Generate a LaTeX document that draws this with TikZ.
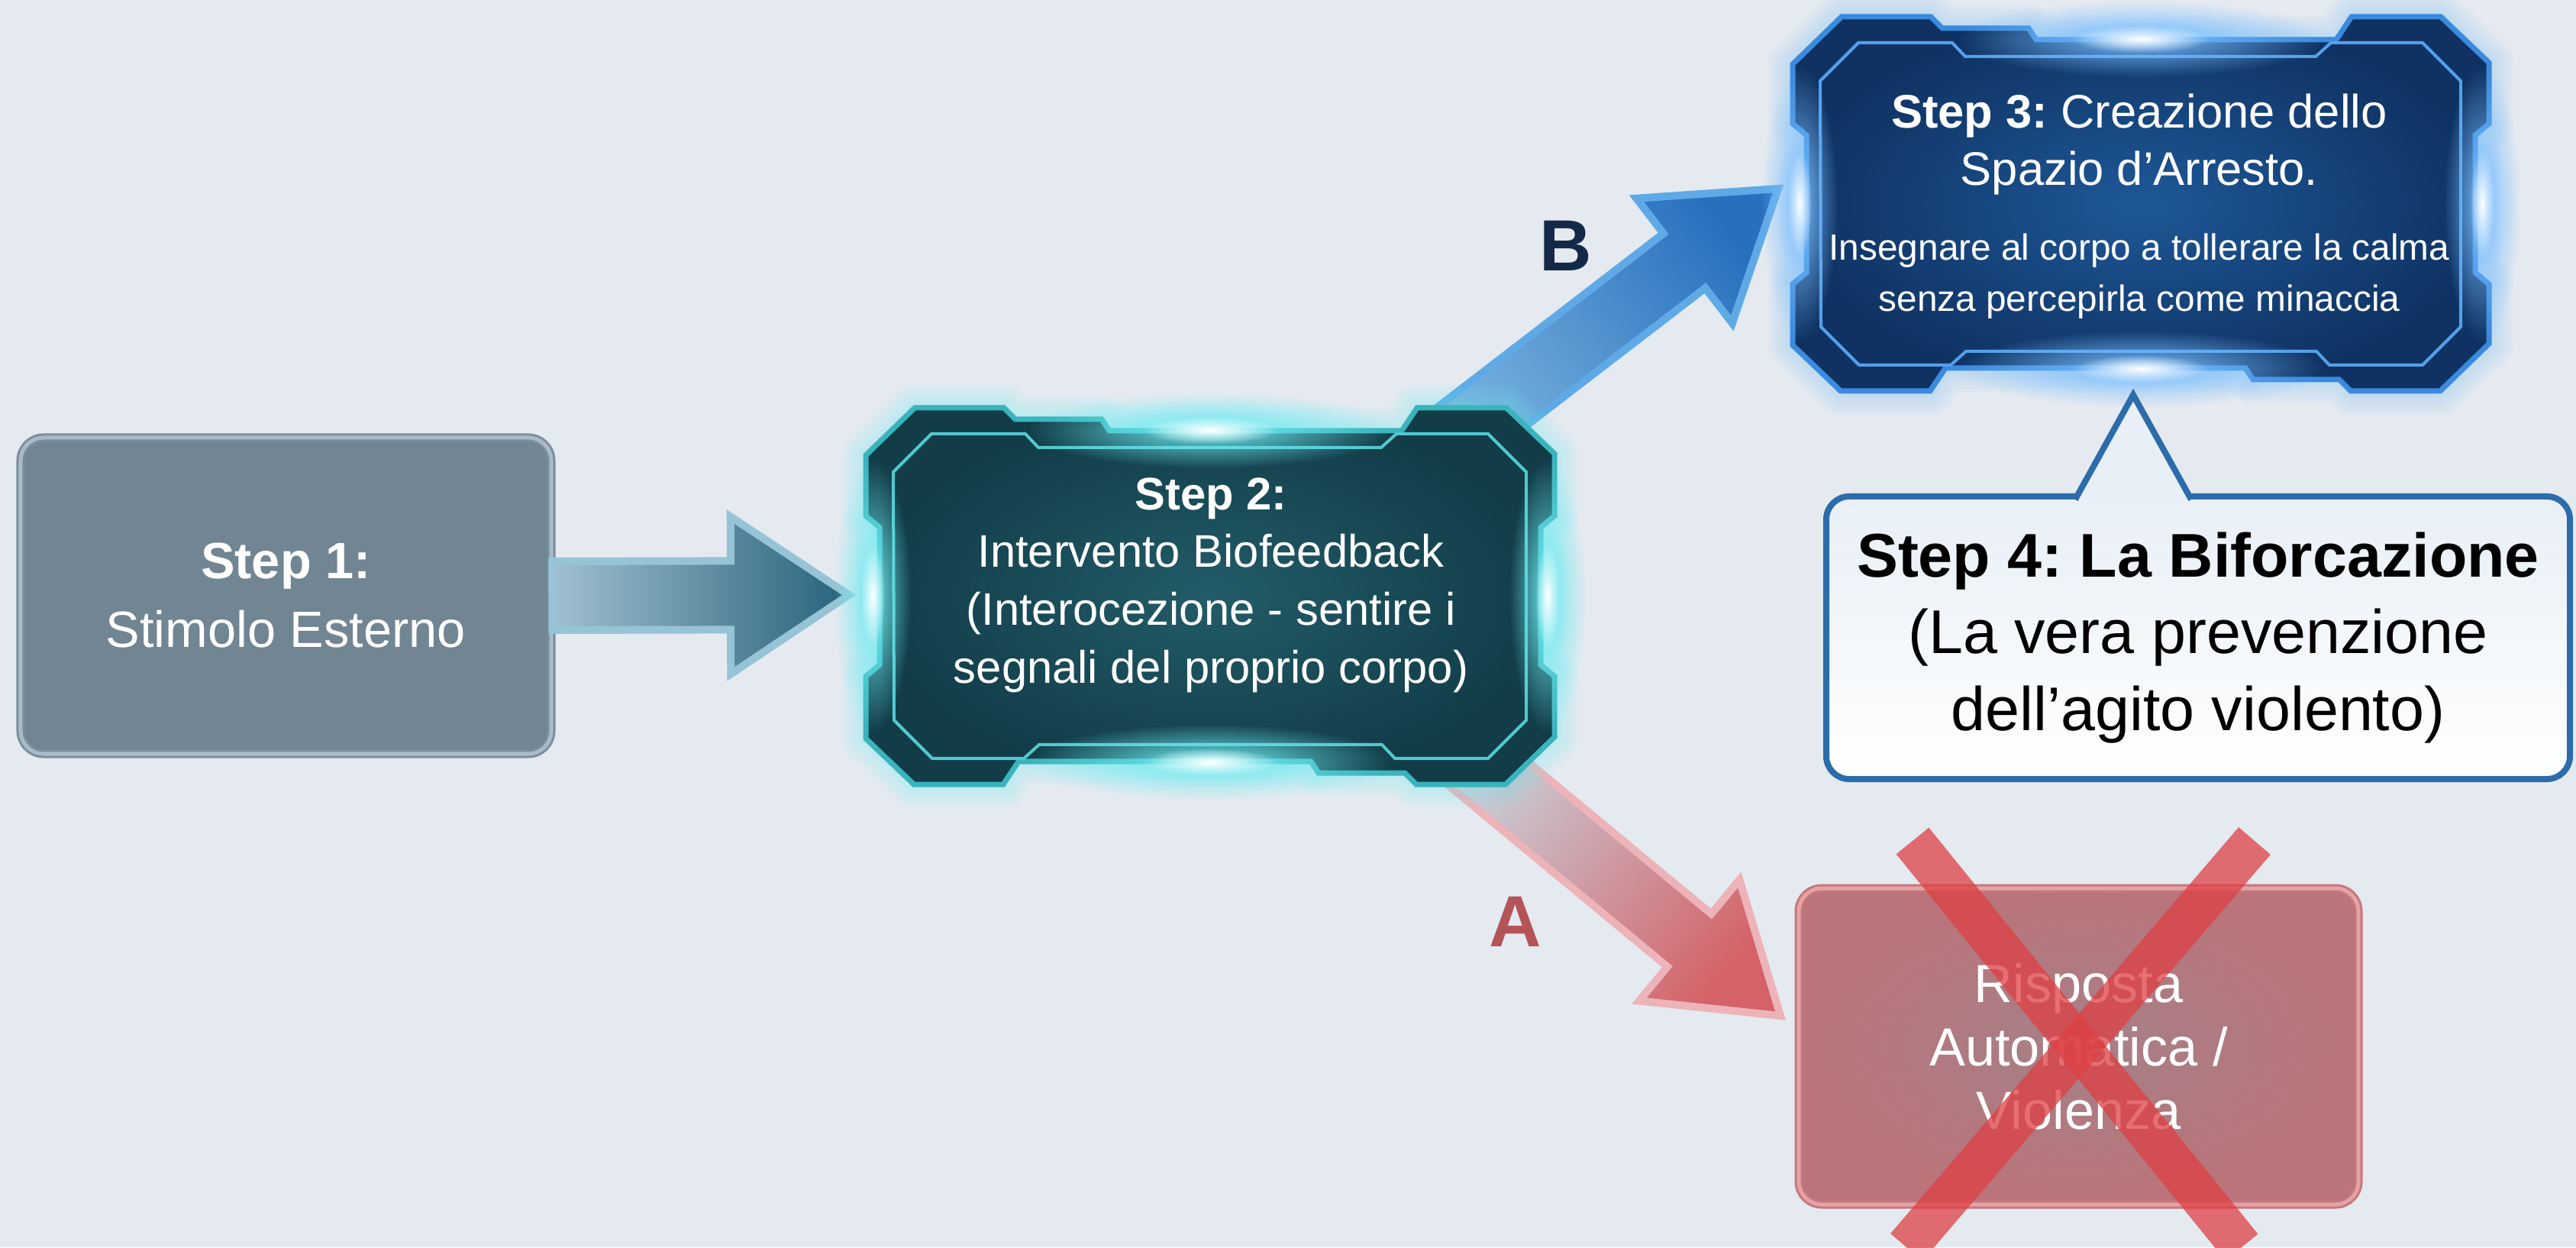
\documentclass[tikz,border=0pt]{standalone}
\usepackage{fontspec}
\setmainfont{Liberation Sans}
\usetikzlibrary{positioning,calc,fadings}
\frenchspacing

\definecolor{bgcol}{RGB}{228,234,240}
\definecolor{slate}{RGB}{113,133,147}
\definecolor{slateedge}{RGB}{122,142,156}
\definecolor{slatelight}{RGB}{168,187,199}
% framed steps
\definecolor{tealin}{RGB}{34,92,104}
\definecolor{tealout}{RGB}{17,60,72}
\definecolor{tealedge}{RGB}{58,180,188}
\definecolor{tealline}{RGB}{82,200,206}
\definecolor{tealglow}{RGB}{110,235,240}
\definecolor{navyin}{RGB}{30,88,152}
\definecolor{navyout}{RGB}{15,50,98}
\definecolor{navyedge}{RGB}{58,138,222}
\definecolor{navyline}{RGB}{84,160,236}
\definecolor{navyglow}{RGB}{120,190,255}
% arrows
\definecolor{oneTail}{RGB}{160,192,208}
\definecolor{oneHead}{RGB}{40,98,124}
\definecolor{oneRim}{RGB}{150,196,214}
\definecolor{bTail}{RGB}{120,178,222}
\definecolor{bHead}{RGB}{40,112,190}
\definecolor{bRim}{RGB}{95,170,230}
\definecolor{aTail}{RGB}{200,210,220}
\definecolor{aHead}{RGB}{212,98,104}
\definecolor{aRim}{RGB}{236,180,184}
\definecolor{labelB}{RGB}{20,40,72}
\definecolor{labelA}{RGB}{180,84,88}
% red box and bubble
\definecolor{redIn}{RGB}{166,128,135}
\definecolor{redOut}{RGB}{186,116,122}
\definecolor{redEdge}{RGB}{196,120,125}
\definecolor{redLight}{RGB}{230,162,165}
\definecolor{crossRed}{RGB}{222,64,68}
\definecolor{bubbleEdge}{RGB}{44,108,170}
\definecolor{bubbleTop}{RGB}{232,239,246}

\tikzfading[name=glowfade, inner color=transparent!0, outer color=transparent!100]

\tikzset{
  plainbox/.style={rounded corners=0.3cm, draw=slateedge, double=slatelight, double distance=0.05cm,
    line width=0.03cm, fill=slate, text=white, align=center, minimum width=6.95cm, minimum height=4.14cm,
    font=\fontsize{19}{25.6}\selectfont},
  redbox/.style={rounded corners=0.3cm, draw=redEdge, double=redLight, double distance=0.05cm,
    line width=0.03cm, inner color=redIn, outer color=redOut, text=white, align=center,
    minimum width=7.33cm, minimum height=4.14cm, font=\fontsize{20}{23.6}\selectfont},
  steptext/.style={text=white, align=center, inner sep=0pt},
  bubble/.style={rounded corners=0.3cm, draw=bubbleEdge, line width=0.08cm, top color=bubbleTop,
    bottom color=white, text=black, align=center, minimum width=9.74cm, minimum height=3.70cm,
    font=\fontsize{23}{28.7}\selectfont},
  bubbleline/.style={draw=bubbleEdge, line width=0.08cm, line join=miter},
  cross/.style={draw=crossRed, line width=0.55cm, opacity=0.75},
  branchlabel/.style={font=\fontsize{27}{30}\selectfont\bfseries, inner sep=0pt},
  arrowone/.style={draw=oneRim, line width=0.1cm, line join=miter, left color=oneTail, right color=oneHead},
  arrowb/.style={draw=bRim, line width=0.1cm, line join=miter, bottom color=bTail, top color=bHead, shading angle=-52.5},
  arrowa/.style={draw=aRim, line width=0.1cm, line join=miter, bottom color=aTail, top color=aHead, shading angle=-129.6},
  outline/.style={insert path={(-\fw,\fh-0.62) -- (-\fw+0.64,\fh) -- (-\fw+1.81,\fh) -- (-\fw+1.96,\fh-0.15)
    -- (-\fw+3.09,\fh-0.15) -- (-\fw+3.19,\fh-0.30) -- (\fw-2.0,\fh-0.30) -- (\fw-1.8,\fh) -- (\fw-0.63,\fh)
    -- (\fw,\fh-0.6) -- (\fw,1.05) -- (\fw-0.18,0.9) -- (\fw-0.18,-0.9) -- (\fw,-1.05) -- (\fw,-\fh+0.62)
    -- (\fw-0.64,-\fh) -- (\fw-1.81,-\fh) -- (\fw-1.96,-\fh+0.15) -- (\fw-3.09,-\fh+0.15) -- (\fw-3.19,-\fh+0.30)
    -- (-\fw+2.0,-\fh+0.30) -- (-\fw+1.8,-\fh) -- (-\fw+0.63,-\fh) -- (-\fw,-\fh+0.6) -- (-\fw,-1.05)
    -- (-\fw+0.18,-0.9) -- (-\fw+0.18,0.9) -- (-\fw,1.05) -- cycle}},
  inline/.style={insert path={(-\fw+0.36,\fh-0.84) -- (-\fw+0.86,\fh-0.34) -- (-\fw+2.09,\fh-0.34)
    -- (-\fw+2.26,\fh-0.52) -- (\fw-2.27,\fh-0.52) -- (\fw-2.07,\fh-0.34) -- (\fw-0.87,\fh-0.34)
    -- (\fw-0.37,\fh-0.84) -- (\fw-0.37,-\fh+0.84) -- (\fw-0.87,-\fh+0.34) -- (\fw-2.09,-\fh+0.34)
    -- (\fw-2.26,-\fh+0.52) -- (-\fw+2.27,-\fh+0.52) -- (-\fw+2.07,-\fh+0.34) -- (-\fw+0.87,-\fh+0.34)
    -- (-\fw+0.37,-\fh+0.84) -- cycle}},
}

% framed step: centre, half width, half height, colour prefix
\newcommand{\techframe}[4]{%
  \begin{scope}[shift={(#1)}]
    \def\fw{#2}\def\fh{#3}
    \foreach \g in {1,...,7}
      \path[draw=#4glow, line width=\g*0.09cm, opacity=0.05, line join=round, outline];
    \path[inner color=#4in, outer color=#4out, outline];
    \path[draw=#4edge, line width=0.07cm, outline];
    \path[draw=#4line, line width=0.04cm, inline];
    \fill[#4glow, path fading=glowfade] (0,\fh-0.29) ellipse (2.4 and 0.5);
    \fill[white, path fading=glowfade] (0,\fh-0.29) ellipse (0.9 and 0.18);
    \fill[#4glow, path fading=glowfade] (0,-\fh+0.29) ellipse (2.4 and 0.5);
    \fill[white, path fading=glowfade] (0,-\fh+0.29) ellipse (0.9 and 0.18);
    \fill[#4glow, path fading=glowfade] (-\fw+0.09,0) ellipse (0.5 and 1.8);
    \fill[white, path fading=glowfade] (-\fw+0.09,0) ellipse (0.16 and 0.7);
    \fill[#4glow, path fading=glowfade] (\fw-0.09,0) ellipse (0.5 and 1.8);
    \fill[white, path fading=glowfade] (\fw-0.09,0) ellipse (0.16 and 0.7);
  \end{scope}}

% block arrow: tail, tip, style
\newcommand{\blockarrow}[3]{%
  \coordinate (hb) at ($(#2)!1.55cm!(#1)$);
  \path[#3] ($(#1)!0.45cm!90:(#2)$) -- ($(hb)!0.45cm!90:(#2)$) -- ($(hb)!1.03cm!90:(#2)$) -- (#2)
    -- ($(hb)!1.03cm!-90:(#2)$) -- ($(hb)!0.45cm!-90:(#2)$) -- ($(#1)!0.45cm!-90:(#2)$) -- cycle;}

\begin{document}
\begin{tikzpicture}
  \useasboundingbox (0,0) rectangle (33.74,16.33);
  \fill[bgcol] (0,0) rectangle (33.74,16.33);

  \node[plainbox] (step1) at (3.745,8.53) {\textbf{Step 1:}\\Stimolo Esterno};

  \coordinate (c2) at (15.85,8.525);
  \coordinate (c3) at (28.04,13.66);
  \coordinate (tip1) at (11.12,8.54);
  \coordinate (b0) at (18.93,10.51);
  \coordinate (b1) at (23.29,13.86);
  \coordinate (a0) at (19.01,6.60);
  \coordinate (a1) at (23.32,3.03);

  % branches
  \blockarrow{b0}{b1}{arrowb}
  \blockarrow{a0}{a1}{arrowa}
  \blockarrow{step1.east}{tip1}{arrowone}

  \techframe{c2}{4.51}{2.465}{teal}
  \node[steptext, font=\fontsize{17}{21.5}\selectfont] (step2) at (15.86,8.67)
    {\textbf{Step 2:}\\Intervento Biofeedback\\(Interocezione - sentire i\\segnali del proprio corpo)};

  \techframe{c3}{4.56}{2.45}{navy}
  \node[steptext, font=\fontsize{17.5}{21.2}\selectfont] (step3) at (28.02,14.44)
    {\textbf{Step 3:} Creazione dello\\Spazio d’Arresto.};
  \node[steptext, font=\fontsize{13.6}{19}\selectfont, below=0.5cm of step3] (step3note)
    {Insegnare al corpo a tollerare la calma\\senza percepirla come minaccia};

  % the bubble
  \node[bubble] (step4) at (28.79,7.98)
    {\textbf{Step 4: La Biforcazione}\\(La vera prevenzione\\dell’agito violento)};
  \coordinate (tip4) at (27.94,11.16);
  \draw[bubbleline, fill=bubbleTop] ($(step4.north)+(-1.61,-0.08)$) -- (tip4) -- ($(step4.north)+(-0.09,-0.08)$);

  \node[redbox] (step5) at (27.225,2.63) {Risposta\\Automatica /\\Violenza};
  \draw[cross] (25.05,5.32) -- (29.36,0);
  \draw[cross] (29.53,5.32) -- (24.97,0);

  \node[branchlabel, text=labelB] (labB) at (20.51,13.11) {B};
  \node[branchlabel, text=labelA] (labA) at (19.85,4.26) {A};
\end{tikzpicture}
\end{document}
